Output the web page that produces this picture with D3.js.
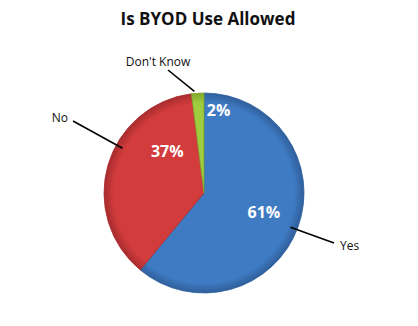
<!DOCTYPE html>
<html>
<head>
<meta charset="utf-8">
<script src="https://cdn.jsdelivr.net/npm/d3@7"></script>
<style>
  html, body { margin: 0; padding: 0; background: #fff; }
  svg { display: block; font-family: "Open Sans", "Noto Sans", sans-serif; }
</style>
</head>
<body>
<div id="chart"></div>
<script>
const categories = ['Yes', 'No', "Don't Know"];
const values = [61, 37, 2];
const pctLabels = ['61%', '37%', '2%'];
const colors = ['#3f7bc3', '#d23c3d', '#9fcd3f'];
const edgeColors = ['#2f5f9c', '#a82c2e', '#7ea62c'];

const wSvg = 418, hSvg = 326;
const cx = 204, cy = 193, radius = 100;

const svg = d3.select('#chart').append('svg')
    .attr('width', wSvg)
    .attr('height', hSvg);

svg.append('text')
    .attr('x', 208)
    .attr('y', 25)
    .attr('text-anchor', 'middle')
    .style('font-size', '17px')
    .style('font-weight', 'bold')
    .style('fill', '#111')
    .text('Is BYOD Use Allowed');

const defs = svg.append('defs');
colors.forEach((c, i) => {
    const grad = defs.append('radialGradient')
        .attr('id', `grad${i}`)
        .attr('gradientUnits', 'userSpaceOnUse')
        .attr('cx', 0).attr('cy', 0).attr('r', radius);
    grad.append('stop').attr('offset', '0%').attr('stop-color', c);
    grad.append('stop').attr('offset', '90%').attr('stop-color', c);
    grad.append('stop').attr('offset', '100%').attr('stop-color', edgeColors[i]);
});

const pie = d3.pie().sort(null).value(d => d);
const arcs = pie(values);
const arc = d3.arc().innerRadius(0).outerRadius(radius);

const g = svg.append('g').attr('transform', `translate(${cx},${cy})`);

g.selectAll('path')
    .data(arcs)
    .enter()
    .append('path')
        .attr('d', arc)
        .attr('fill', (d, i) => `url(#grad${i})`)
        .attr('stroke', (d, i) => edgeColors[i])
        .attr('stroke-width', 0.8);

// percent labels: polar position (degrees clockwise from top, radius fraction)
const pctPolar = [[108, 0.63], [319, 0.56], [10, 0.84]];
g.selectAll('text.pct')
    .data(arcs)
    .enter()
    .append('text')
        .attr('class', 'pct')
        .attr('x', (d, i) => Math.sin(pctPolar[i][0] * Math.PI / 180) * radius * pctPolar[i][1])
        .attr('y', (d, i) => -Math.cos(pctPolar[i][0] * Math.PI / 180) * radius * pctPolar[i][1])
        .attr('dy', '0.36em')
        .attr('text-anchor', 'middle')
        .style('font-size', '16px')
        .style('font-weight', 'bold')
        .style('fill', '#fff')
        .text((d, i) => pctLabels[i]);

// leader lines and category labels (angle on the rim, then out to label)
const leaderAngle = [Math.PI * 0.62, Math.PI * 1.66, Math.PI * 1.97];
const leaderEnd = [[334, 243], [73, 121], [168, 70]];
const catPos = [[340, 250, 'start'], [68, 122, 'end'], [158, 66, 'middle']];

arcs.forEach((d, i) => {
    const r0 = i === 2 ? radius + 2 : radius * 0.93;
    const a = leaderAngle[i];
    const x0 = cx + Math.sin(a) * r0;
    const y0 = cy - Math.cos(a) * r0;
    svg.append('line')
        .attr('x1', x0).attr('y1', y0)
        .attr('x2', leaderEnd[i][0]).attr('y2', leaderEnd[i][1])
        .attr('stroke', '#000')
        .attr('stroke-width', 1.6);
    svg.append('text')
        .attr('x', catPos[i][0])
        .attr('y', catPos[i][1])
        .attr('text-anchor', catPos[i][2])
        .style('font-size', '12px')
        .style('fill', '#111')
        .text(categories[i]);
});
</script>
</body>
</html>
